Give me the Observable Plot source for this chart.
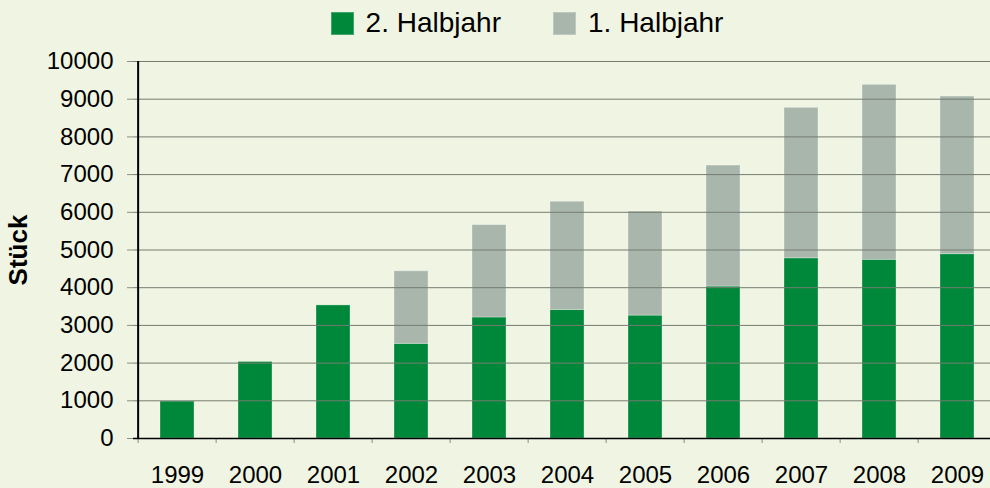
<!DOCTYPE html>
<html><head><meta charset="utf-8">
<script src="https://cdn.jsdelivr.net/npm/d3@7"></script>
<script src="https://cdn.jsdelivr.net/npm/@observablehq/plot@0.6"></script>
<style>
html,body{margin:0;padding:0;background:#eff5e2;}
body{width:990px;height:488px;overflow:hidden;font-family:"Liberation Sans",Arial,sans-serif;}
#legend{height:46px;display:flex;align-items:center;justify-content:center;padding-left:64px;box-sizing:border-box;font-size:28px;color:#000;}
.item{display:flex;align-items:center;}
.item + .item{margin-left:52px;}
.sw{width:23px;height:23px;margin-right:12px;box-sizing:border-box;}
#chart svg{display:block;}
[aria-label="y-axis label"], [aria-label="y-axis label"] text{font-weight:bold;font-size:26px;}
</style>
</head><body>
<div id="legend"></div>
<div id="chart"></div>
<script>
const years = ["1999","2000","2001","2002","2003","2004","2005","2006","2007","2008","2009"];
const halbjahr2 = [980, 2030, 3530, 2510, 3210, 3410, 3260, 4030, 4780, 4740, 4890];
const halbjahr1 = [0, 0, 0, 1925, 2450, 2870, 2760, 3210, 3990, 4640, 4180];
const seriesNames = ["2. Halbjahr", "1. Halbjahr"];
const seriesColors = ["#00883a", "#a9b6ac"];
const yTicks = [0,1000,2000,3000,4000,5000,6000,7000,8000,9000,10000];

const rows = [];
years.forEach((y,i)=>rows.push({year:y, series:seriesNames[0], value:halbjahr2[i]}));
years.forEach((y,i)=>rows.push({year:y, series:seriesNames[1], value:halbjahr1[i]}));

const legend = document.getElementById("legend");
seriesNames.forEach((s,i)=>{
  const it = document.createElement("div"); it.className="item";
  const sw = document.createElement("div"); sw.className="sw"; sw.style.background=seriesColors[i];
  sw.style.border = "1px solid rgba(255,255,255,0.25)";
  const tx = document.createElement("span"); tx.textContent = s;
  it.appendChild(sw); it.appendChild(tx); legend.appendChild(it);
});

const step = (999.5-133.5)/years.length;
const chart = Plot.plot({
  width: 990, height: 442,
  marginTop: 15, marginBottom: 50, marginLeft: 133, marginRight: 0,
  style: {background: "transparent", fontFamily: "'Liberation Sans', Arial, sans-serif", fontSize: "24px", color: "#000", overflow: "visible"},
  x: {domain: years, range: [133.5, 999.5], paddingInner: 0.57, paddingOuter: 0.285, label: null, axis: null},
  y: {domain: [0, 10000], axis: null},
  color: {domain: seriesNames, range: seriesColors},
  marks: [
    Plot.barY(rows, {x: "year", y: "value", fill: "series", stroke: "#ffffff", strokeOpacity: 0.3, strokeWidth: 1}),
    Plot.gridY(yTicks, {stroke: "#767c70", strokeOpacity: 1, strokeWidth: 1}),
    Plot.axisY(yTicks, {tickSize: 6, tickPadding: 14, stroke: "#8a8f84", fontSize: 24, tickFormat: d => String(d),
      label: "Stück", labelAnchor: "center", labelOffset: 125, labelArrow: "none"}),
    Plot.axisX({tickSize: 0, tickPadding: 27, fontSize: 24, label: null}),
    Plot.axisX({tickSize: 5, tickFormat: () => "", dx: -step/2, stroke: "#8a8f84", label: null}),
    Plot.ruleX([years[0]], {dx: -step/2, y1: 0, y2: 10000, stroke: "#000", strokeWidth: 2}),
    Plot.ruleY([0], {stroke: "#000", strokeWidth: 1.6})
  ]
});
document.getElementById("chart").appendChild(chart);
</script>
</body></html>
